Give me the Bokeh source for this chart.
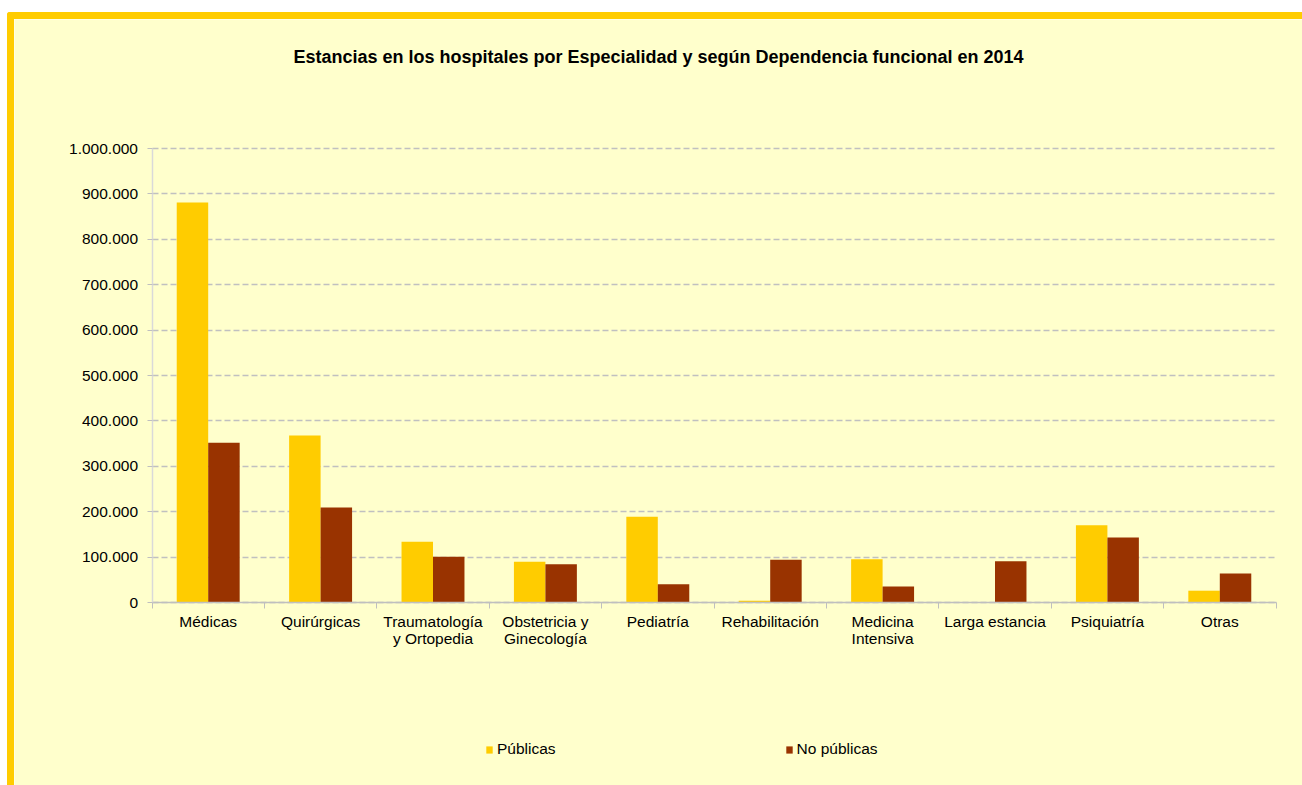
from bokeh.plotting import figure
from bokeh.models import (FixedTicker, Range1d, Legend, LegendItem, Label,
                          ColumnDataSource)
from bokeh.embed import file_html
from bokeh.resources import INLINE

categories = ["Médicas", "Quirúrgicas", "Traumatología\ny Ortopedia",
              "Obstetricia y\nGinecología", "Pediatría", "Rehabilitación",
              "Medicina\nIntensiva", "Larga estancia", "Psiquiatría", "Otras"]
publicas = [881000, 368000, 134000, 90000, 189000, 4000, 95000, 0, 170000, 26000]
no_publicas = [352000, 209000, 101000, 84000, 40000, 94000, 35000, 91000, 143000, 64000]
y_ticks = list(range(0, 1000001, 100000))
series_names = ["Públicas", "No públicas"]
title_text = "Estancias en los hospitales por Especialidad y según Dependencia funcional en 2014"

FONT = "Liberation Sans"
BG = "#FFFFCC"
C_PUB = "#FFCC00"
C_NOPUB = "#993300"

# ---- page geometry (pixels) ----
FL, FT, FW, FH = 14, 19, 1295, 773      # frame position/size on the page
CAT_PX = 112.4                          # width of one category
X0_PX = 207.7                           # centre of first category
Y0_PX, YTOP_PX = 602, 148               # pixel rows of 0 and 1.000.000
y_per_px = 1000000 / (Y0_PX - YTOP_PX)

x_start = (FL - X0_PX) / CAT_PX
x_end = x_start + FW / CAT_PX
y_start = -(FT + FH - Y0_PX) * y_per_px
y_end = y_start + FH * y_per_px

n = len(categories)
idx = list(range(n))
src = ColumnDataSource(dict(
    x_pub=[i - 0.14 for i in idx],
    x_nopub=[i + 0.14 for i in idx],
    pub=publicas,
    nopub=no_publicas,
))

p = figure(width=FW, height=FH,
           x_range=Range1d(x_start, x_end), y_range=Range1d(y_start, y_end),
           output_backend="svg", toolbar_location=None,
           min_border_left=0, min_border_right=0,
           min_border_top=0, min_border_bottom=0,
           background_fill_color=BG, border_fill_color=BG,
           outline_line_color=None)
p.margin = (12, 0, 0, 7)
p.styles = {"border-top": "7px solid #FFCC00", "border-left": "7px solid #FFCC00",
            "border-top-left-radius": "3px"}

r1 = p.vbar(x="x_pub", top="pub", width=0.28, source=src,
            fill_color=C_PUB, line_color=None)
r2 = p.vbar(x="x_nopub", top="nopub", width=0.28, source=src,
            fill_color=C_NOPUB, line_color=None)

# X axis: labels at centres, tick marks between categories
p.xaxis.fixed_location = 0
p.xaxis.bounds = (-0.5, n - 0.5)
p.xaxis.ticker = FixedTicker(ticks=idx, minor_ticks=[i - 0.5 for i in range(n + 1)])
p.xaxis.major_label_overrides = {i: c for i, c in enumerate(categories)}
p.xaxis.major_tick_out = 0
p.xaxis.major_tick_in = 0
p.xaxis.minor_tick_out = 6
p.xaxis.minor_tick_in = 0
p.xaxis.minor_tick_line_color = "#BFBFBF"
p.xaxis.axis_line_color = "#BFBFBF"
p.xaxis.axis_line_width = 1.5
p.xaxis.major_label_standoff = 4
p.xaxis.major_label_text_font = FONT
p.xaxis.major_label_text_font_size = "15.5px"
p.xaxis.major_label_text_line_height = 1.0
p.xaxis.major_label_text_color = "#000000"
p.xaxis.major_label_orientation = "horizontal"
p.xgrid.visible = False

# Y axis
yt = FixedTicker(ticks=y_ticks, minor_ticks=[])
p.yaxis.fixed_location = -0.5
p.yaxis.bounds = (0, 1000000)
p.yaxis.ticker = yt
p.yaxis.major_label_overrides = {v: f"{v:,}".replace(",", ".") for v in y_ticks}
p.yaxis.axis_line_color = "#D9D9D9"
p.yaxis.axis_line_width = 1.5
p.yaxis.major_tick_out = 5
p.yaxis.major_tick_in = 0
p.yaxis.major_tick_line_color = "#BFBFBF"
p.yaxis.minor_tick_line_color = None
p.yaxis.major_label_standoff = 9
p.yaxis.major_label_text_font = FONT
p.yaxis.major_label_text_font_size = "15.5px"
p.yaxis.major_label_text_color = "#000000"
p.ygrid.ticker = yt
p.ygrid.cross_bounds = (-0.5, n - 0.5)
p.ygrid.grid_line_color = "#C0C0C0"
p.ygrid.grid_line_dash = "6 3"
p.ygrid.grid_line_width = 1.5

# Title (inside the frame, pixel placement)
p.add_layout(Label(x=658 - FL, y=FT + FH - 56, x_units="screen", y_units="screen",
                   text=title_text, text_font=FONT, text_font_style="bold",
                   text_font_size="18px", text_color="#000000",
                   text_align="center", text_baseline="middle"))

# Legend (inside the frame, pixel placement)
legend = Legend(items=[LegendItem(label=series_names[0], renderers=[r1]),
                       LegendItem(label=series_names[1], renderers=[r2])],
                orientation="horizontal", location=(485 - FL, FT + FH - 758),
                spacing=229, padding=0, margin=0,
                glyph_width=8, glyph_height=9, label_standoff=4,
                label_text_font=FONT, label_text_font_size="15.5px",
                label_text_color="#000000", label_height=16,
                border_line_color=None, background_fill_alpha=0)
p.add_layout(legend)

open("out.html", "w").write(file_html(p, INLINE))
